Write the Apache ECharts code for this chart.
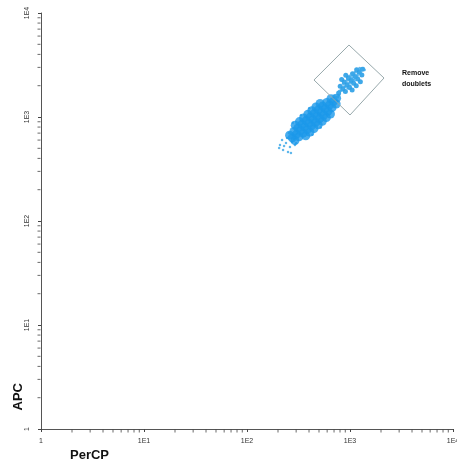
<!DOCTYPE html>
<html>
<head>
<meta charset="utf-8">
<script src="https://cdn.jsdelivr.net/npm/echarts@6/dist/echarts.min.js"></script>
<style>
  html, body { margin: 0; padding: 0; background: #fff; }
  #chart { width: 457px; height: 464px; }
</style>
</head>
<body>
<div id="chart"></div>
<script>
// axis decades and their labels
var decades = [1, 10, 100, 1000, 10000];
var decadeLabels = ['1', '1E1', '1E2', '1E3', '1E4'];
var minorTicks = [2, 3, 4, 5, 6, 7, 8, 9, 20, 30, 40, 50, 60, 70, 80, 90,
  200, 300, 400, 500, 600, 700, 800, 900, 2000, 3000, 4000, 5000, 6000, 7000, 8000, 9000];

// events: PerCP vs APC
var tailEvents = [[209, 538], [224, 482], [250, 461], [239, 562], [219, 601], [261, 515],
  [273, 575], [245, 628], [205, 504], [292, 538], [229, 526], [267, 451], [286, 614],
  [278, 882], [334, 1037], [402, 1217], [432, 676], [520, 793], [255, 700], [300, 560]];
var mainEvents = [
  [275, 631], [292, 595], [259, 669],
  [302, 684], [320, 645], [285, 725],
  [331, 741], [372, 659], [294, 833], [351, 699], [312, 785],
  [363, 804], [408, 715], [323, 904], [385, 758], [342, 852],
  [398, 871], [447, 775], [354, 979], [422, 822], [375, 923],
  [437, 944], [491, 840], [389, 1061], [463, 891], [412, 1001],
  [479, 1023], [538, 910], [426, 1150], [508, 965], [452, 1084],
  [525, 1109], [590, 987], [467, 1247], [557, 1046], [495, 1176],
  [575, 1202], [610, 1134], [542, 1274], [646, 1069], [512, 1351],
  [631, 1303], [669, 1229], [595, 1381],
  [692, 1413], [734, 1333], [653, 1498],
  [741, 1514]];
var neckEvents = [[684, 1456], [731, 1556], [782, 1629], [715, 1489], [760, 1560], [700, 1600]];
var gateEvents = [
  [776, 1698], [851, 1862], [902, 1757], [803, 1975],
  [933, 2042], [989, 1926], [880, 2165], [1049, 1817], [830, 2295],
  [1023, 2239], [1084, 2112], [965, 2373], [1150, 1992], [910, 2517],
  [1122, 2455], [1189, 2316], [1058, 2602], [1261, 2184],
  [1230, 2692], [1304, 2540], [1160, 2854], [1318, 2884]];
var gateSparse = [[820, 1800], [870, 1950], [960, 2100], [1000, 2000], [1100, 2250], [1040, 2400],
  [1180, 2500], [1250, 2800], [1350, 2950], [940, 2250], [1080, 2550], [1200, 2650], [860, 2100],
  [1010, 2150], [1130, 2380], [990, 2480], [1280, 2600], [1240, 2950], [790, 1780], [950, 1900],
  [1120, 2700], [1380, 2850], [900, 1950], [1060, 2300]];

// "Remove doublets" gate vertices
var gatePolygon = [[977, 4922], [2138, 2371], [1000, 1045], [447, 2270], [977, 4922]];

var chart = echarts.init(document.getElementById('chart'));

function fmt(v) {
  var i = decades.indexOf(v);
  return i >= 0 ? decadeLabels[i] : '';
}

var axisCommon = {
  type: 'log',
  logBase: 10,
  min: 1,
  max: 10000,
  splitLine: { show: false },
  axisLine: { lineStyle: { color: '#555', width: 1 } },
  axisTick: { show: true, length: 3, lineStyle: { color: '#444' } },
  axisLabel: { color: '#333', fontSize: 7, fontFamily: 'Liberation Sans', formatter: fmt }
};

var option = {
  animation: false,
  grid: { left: 41, right: 4, top: 13, bottom: 35, outerBoundsMode: 'none' },
  xAxis: echarts.util.merge({ axisLabel: { margin: 9 } }, axisCommon),
  yAxis: echarts.util.merge({ axisLabel: { margin: 10, rotate: 90 } }, axisCommon),
  graphic: [
    { type: 'text', left: 402, top: 68, style: { text: 'Remove\ndoublets', font: 'bold 7px Liberation Sans', fill: '#111', lineHeight: 11 } },
    { type: 'text', left: 70, top: 449, style: { text: 'PerCP', font: 'bold 13px Liberation Sans', fill: '#111' } },
    { type: 'text', left: 12, top: 383, rotation: Math.PI / 2, style: { text: 'APC', font: 'bold 13px Liberation Sans', fill: '#111' } }
  ],
  series: [
    {
      type: 'scatter', symbol: 'rect', symbolSize: [1, 3], symbolOffset: [0, 2], clip: false, silent: true,
      itemStyle: { color: '#444' },
      data: minorTicks.map(function (v) { return [v, 1]; })
    },
    {
      type: 'scatter', symbol: 'rect', symbolSize: [3, 1], symbolOffset: [-2, 0], clip: false, silent: true,
      itemStyle: { color: '#444' },
      data: minorTicks.map(function (v) { return [1, v]; })
    },
    { type: 'scatter', symbolSize: 2.5, itemStyle: { color: '#2a9fe6', opacity: 0.75 }, data: tailEvents },
    { type: 'scatter', symbolSize: 9, itemStyle: { color: '#1c98ea' }, data: mainEvents },
    { type: 'scatter', symbolSize: 3, itemStyle: { color: '#2a9fe6' }, data: neckEvents },
    { type: 'scatter', symbolSize: 5, itemStyle: { color: '#2a9fe6', opacity: 0.9 }, data: gateEvents },
    { type: 'scatter', symbolSize: 3, itemStyle: { color: '#3aa6ea', opacity: 0.8 }, data: gateSparse },
    {
      type: 'line', data: gatePolygon, symbol: 'none', silent: true,
      lineStyle: { color: '#97a8ab', width: 1 }
    }
  ]
};

chart.setOption(option);
</script>
</body>
</html>
